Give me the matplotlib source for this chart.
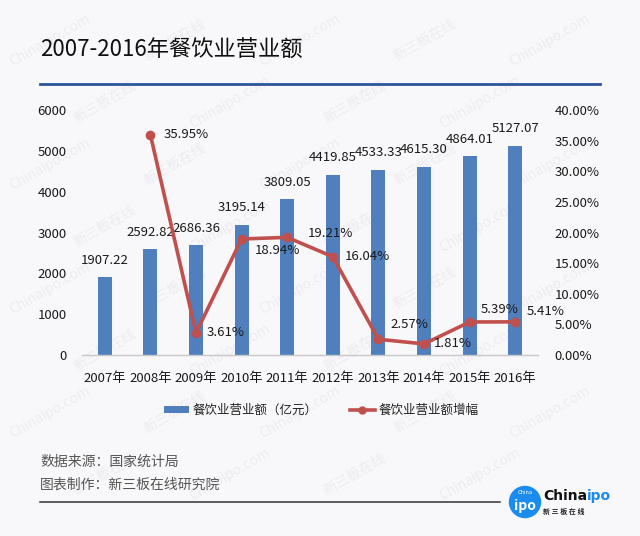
import matplotlib
matplotlib.use('Agg')
import matplotlib.pyplot as plt
from matplotlib.lines import Line2D
from matplotlib.patches import Patch, Ellipse
from matplotlib.ticker import FuncFormatter, MultipleLocator
import numpy as np

plt.rcParams['font.family'] = ['Noto Sans CJK SC', 'DejaVu Sans']

# Data
YEARS = ['2007年', '2008年', '2009年', '2010年', '2011年',
         '2012年', '2013年', '2014年', '2015年', '2016年']
REVENUE = [1907.22, 2592.82, 2686.36, 3195.14, 3809.05,
           4419.85, 4533.33, 4615.30, 4864.01, 5127.07]
# growth starts in 2008
GROWTH = [35.95, 3.61, 18.94, 19.21, 16.04, 2.57, 1.81, 5.39, 5.41]

TITLE = '2007-2016年餐饮业营业额'
BAR_LABEL = '餐饮业营业额（亿元）'
LINE_LABEL = '餐饮业营业额增幅'
SOURCE = '数据来源：国家统计局'
MAKER = '图表制作：新三板在线研究院'

BG = '#f8f7f9'
BAR_COLOR = '#4f7fbd'
LINE_COLOR = '#c0504d'
LOGO_BLUE = '#1a8cf0'
TEXT = '#1a1a1a'

# label offsets (pixels) for the growth labels
GROWTH_OFFSETS = [(13, 0), (11, 0), (13, -12), (21, 4), (12, 0),
                  (12, 15), (10, 0), (11, 12), (11, 10)]

W, H = 640, 536
fig = plt.figure(figsize=(6.4, 5.36), dpi=100, facecolor=BG)


def fx(px):
    return px / W


def fy(py):
    return 1 - py / H


# faint watermark, only the ones that sit fully inside the picture
for row, yy in enumerate(range(40, 530, 62)):
    for col, xx in enumerate(range(50, 620, 125)):
        txt = 'Chinaipo.com' if (row + col) % 2 == 0 else '新三板在线'
        cx = xx + (row % 2) * 55
        if cx > 590:
            continue
        fig.text(fx(cx), fy(yy), txt, rotation=30, fontsize=10,
                 color='#edebf0', ha='center', va='center', zorder=-5)

# title and rule
fig.text(fx(40), fy(50), TITLE, fontsize=16, color='#111111', ha='left', va='center',
         fontweight='medium')
fig.add_artist(Line2D([fx(40), fx(600)], [fy(83.5), fy(83.5)], color='#2b579a',
                      linewidth=2.0, transform=fig.transFigure))

ax = fig.add_axes([fx(82), fy(355), fx(538) - fx(82), fy(110) - fy(355)])
ax.set_facecolor('none')
x = np.arange(len(YEARS))

ax.bar(x, REVENUE, width=0.31, color=BAR_COLOR, zorder=2)
ax.set_xlim(-0.5, len(YEARS) - 0.5)
ax.set_ylim(0, 6000)
ax.yaxis.set_major_locator(MultipleLocator(1000))
ax.set_xticks(x)
ax.set_xticklabels(YEARS)

for sp in ['top', 'right', 'left']:
    ax.spines[sp].set_visible(False)
ax.spines['bottom'].set_color('#c8c8c8')
ax.spines['bottom'].set_linewidth(1.0)
ax.tick_params(axis='both', length=0, labelsize=9.5, colors=TEXT)
ax.tick_params(axis='x', pad=12)
ax.tick_params(axis='y', pad=11)

for i, v in enumerate(REVENUE):
    ax.annotate(f'{v:.2f}', (x[i], v), xytext=(0, 17), textcoords='offset pixels',
                ha='center', va='center', fontsize=9.5, color=TEXT, zorder=5)

ax2 = ax.twinx()
ax2.set_facecolor('none')
ax2.set_ylim(0, 40)
ax2.yaxis.set_major_locator(MultipleLocator(5))
ax2.yaxis.set_major_formatter(FuncFormatter(lambda v, p: f'{v:.2f}%'))
for sp in ['top', 'right', 'left', 'bottom']:
    ax2.spines[sp].set_visible(False)
ax2.tick_params(axis='y', length=0, labelsize=9.5, colors=TEXT, pad=12)

gx = x[1:]
ax2.plot(gx, GROWTH, color=LINE_COLOR, linewidth=2.6, marker='o', markersize=6,
         zorder=3)
for i, v in enumerate(GROWTH):
    dx, dy = GROWTH_OFFSETS[i]
    ax2.annotate(f'{v:.2f}%', (gx[i], v), xytext=(dx, dy), textcoords='offset pixels',
                 ha='left', va='center', fontsize=9.5, color=TEXT, zorder=5)

# legend
handles = [Patch(facecolor=BAR_COLOR, edgecolor='none', label=BAR_LABEL),
           Line2D([0], [0], color=LINE_COLOR, linewidth=2.6, marker='o', markersize=5,
                  label=LINE_LABEL)]
fig.legend(handles=handles, loc='center', bbox_to_anchor=(fx(321), fy(410)), ncol=2,
           frameon=False, fontsize=9, handlelength=2.0, handleheight=0.5,
           handletextpad=0.3, columnspacing=2.6, labelcolor='#222222')

# footer
fig.text(fx(40), fy(462), SOURCE, fontsize=10, color='#555555', ha='left', va='center')
fig.text(fx(40), fy(485), MAKER, fontsize=10, color='#555555', ha='left', va='center')
fig.add_artist(Line2D([fx(40), fx(500)], [fy(502), fy(502)], color='#333333',
                      linewidth=1.1, transform=fig.transFigure))

# logo
fig.add_artist(Ellipse((fx(525), fy(502)), 31 / W, 31 / H, color=LOGO_BLUE,
                       transform=fig.transFigure))
fig.text(fx(525), fy(493), 'China', fontsize=4, color='white', ha='center',
         va='center', style='italic')
fig.text(fx(525), fy(506), 'ipo', fontsize=10, color='white', ha='center',
         va='center', fontweight='bold')
t_china = fig.text(fx(543), fy(496), 'China', fontsize=10, color='#111111',
                   ha='left', va='center', fontweight='bold', family='DejaVu Sans')
renderer = fig.canvas.get_renderer()
bb = t_china.get_window_extent(renderer)
fig.text(bb.x1 / W, fy(496), 'ipo', fontsize=10, color=LOGO_BLUE, ha='left',
         va='center', fontweight='bold', family='DejaVu Sans')
fig.text(fx(543), fy(511), '新 三 板 在 线', fontsize=5, color='#222222', ha='left',
         va='center', fontweight='bold')

fig.savefig('out.png', dpi=100, facecolor=BG)
